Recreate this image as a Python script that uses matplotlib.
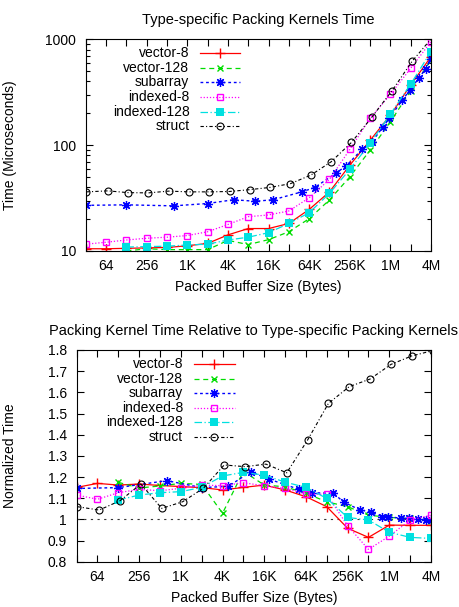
import numpy as np
import matplotlib
matplotlib.use("Agg")
from matplotlib import pyplot as plt

plt.rcParams['font.family'] = ['Liberation Sans', 'DejaVu Sans']
plt.rcParams['font.size'] = 10

# x positions are log2 of the packed buffer size in bytes
k_all = list(range(5, 23))          # 32 B .. 4 MB
k_128 = list(range(7, 23))          # series that start at 128 B
k_struct = [5.03] + [k + 0.08 for k in range(6, 23)]
k_sub = [5, 7.0, 9.32, 11.0, 12.28, 13.35, 14.23, 15.66, 16.27, 17.31,
         17.83, 18.6, 19.1, 19.65, 19.95, 20.58, 20.95, 21.4, 21.75, 22]

tick_k = list(range(5, 23))
tick_names = {6: '64', 8: '256', 10: '1K', 12: '4K', 14: '16K', 16: '64K',
              18: '256K', 20: '1M', 22: '4M'}

labels = ['vector-8', 'vector-128', 'subarray', 'indexed-8', 'indexed-128', 'struct']

# ---- top panel: time in microseconds
t_vec8 = [10.5, 10.5, 10.6, 10.7, 10.8, 11.2, 11.8, 14.2, 16.3, 16.3, 18.2,
          24.7, 36.2, 64.6, 111, 192, 370, 686]
t_vec128 = [10.0, 10.5, 10.3, 10.3, 10.3, 12.6, 11.5, 12.8, 15.2, 20.2, 30.4,
            50.1, 89.7, 166, 327, 637]
t_sub = [27.0, 27.3, 26.7, 28.1, 30.5, 29.5, 30.5, 36.3, 39.8, 54.2, 64, 91,
         108, 150, 180, 265, 330, 430, 530, 650]
t_idx8 = [11.6, 12.1, 12.7, 13.2, 13.5, 14.0, 15.2, 17.8, 21.1, 21.9, 23.9,
          31.8, 47.5, 91.0, 179, 302, 532, 950]
t_idx128 = [10.9, 11.0, 11.1, 11.4, 11.6, 12.7, 13.5, 14.9, 18.2, 23.0, 35.0,
            59.0, 104, 196, 378, 765]
t_struct = [36.2, 37.0, 35.6, 35.4, 36.8, 36.2, 36.2, 36.5, 38.0, 39.9, 43.3,
            52.1, 69.6, 106, 183, 327, 624, 1050]

# ---- bottom panel: normalized time
n_vec8 = [1.151, 1.170, 1.162, 1.167, 1.160, 1.155, 1.150, 1.139, 1.151, 1.162,
          1.139, 1.107, 1.060, 0.958, 0.915, 0.973, 0.972, 0.972]
n_vec128 = [1.175, 1.148, 1.158, 1.170, 1.165, 1.029, 1.227, 1.162, 1.154,
            1.123, 1.083, 1.060, 1.020, 1.009, 1.005, 0.994]
n_sub = [1.146, 1.150, 1.183, 1.150, 1.156, 1.225, 1.19, 1.142, 1.126, 1.123,
         1.081, 1.044, 1.036, 1.013, 1.013, 1.005, 1.005, 1.0, 0.997, 0.997]
n_idx8 = [1.115, 1.095, 1.126, 1.142, 1.135, 1.147, 1.162, 1.159, 1.173, 1.159,
          1.146, 1.120, 1.118, 0.970, 0.858, 0.921, 0.997, 1.020]
n_idx128 = [1.091, 1.115, 1.126, 1.131, 1.151, 1.205, 1.222, 1.209, 1.176,
            1.151, 1.099, 1.009, 0.997, 0.939, 0.915, 0.910]
n_struct = [1.060, 1.044, 1.088, 1.167, 1.052, 1.083, 1.147, 1.257, 1.249,
            1.261, 1.220, 1.375, 1.548, 1.627, 1.663, 1.732, 1.772, 1.797]

styles = [
    dict(color='#ff0000', lw=0.9, ls='-', marker='+', ms=6.5, mew=1.0),
    dict(color='#00dd00', lw=0.9, dashes=(4, 3), marker='x', ms=5, mew=1.0),
    dict(color='#0000ff', lw=1.0, dashes=(2, 2), marker=(8, 2, 0), ms=6.5, mew=0.9),
    dict(color='#ff00ff', lw=0.9, dashes=(1, 1.5), marker='s', mfc='none', ms=5, mew=1.0),
    dict(color='#00e0e0', lw=0.9, dashes=(6, 2, 1, 2), marker='s', ms=5.5, mew=0),
    dict(color='black', lw=0.8, dashes=(3, 2, 1, 2), marker='o', mfc='none', ms=5, mew=0.8),
]

key_y = [0.935, 0.865, 0.797, 0.727, 0.658, 0.590]


def sizes(ks):
    return 2.0 ** np.array(ks)


def draw_key(ax):
    for lab, st, y in zip(labels, styles, key_y):
        ax.text(0.30, y, lab, transform=ax.transAxes, ha='right', va='center')
        ax.plot([0.33, 0.388, 0.446], [y, y, y], transform=ax.transAxes,
                markevery=[1], **st)


def setup_x(ax):
    ax.set_xscale('log', base=2)
    ax.set_xlim(2.0 ** 5, 2.0 ** 22)
    ax.set_xticks(sizes(tick_k))
    ax.set_xticklabels([tick_names.get(k, '') for k in tick_k])
    ax.xaxis.set_minor_locator(matplotlib.ticker.NullLocator())
    ax.tick_params(which='both', direction='in', top=True, right=True)
    ax.tick_params(which='major', length=5, width=0.8, pad=6)
    ax.tick_params(which='minor', length=3, width=0.8)
    ax.set_xlabel('Packed Buffer Size (Bytes)')
    ax.xaxis.set_label_coords(0.5, -0.17)
    ax.xaxis.label.set_va('center')


fig = plt.figure(figsize=(4.59, 6.07), dpi=100)

# Top panel
ax1 = fig.add_axes([0.187, 0.5865, 0.752, 0.3487])
series1 = [(k_all, t_vec8), (k_128, t_vec128), (k_sub, t_sub),
           (k_all, t_idx8), (k_128, t_idx128), (k_struct, t_struct)]
for (ks, vals), st in zip(series1, styles):
    ax1.plot(sizes(ks), vals, **st)
ax1.set_yscale('log')
ax1.set_ylim(10, 1000)
ax1.yaxis.set_major_formatter(matplotlib.ticker.FormatStrFormatter('%d'))
ax1.yaxis.set_minor_formatter(matplotlib.ticker.NullFormatter())
setup_x(ax1)
ax1.tick_params(axis='y', pad=7)
ax1.set_title('Type-specific Packing Kernels Time', fontsize=10.5, pad=11)
ax1.set_ylabel('Time (Microseconds)')
ax1.yaxis.set_label_coords(-0.2, 0.5)
draw_key(ax1)

# Bottom panel
ax2 = fig.add_axes([0.167, 0.0746, 0.772, 0.3488])
ax2.axhline(1.0, color='#333333', lw=0.8, dashes=(2, 4))
series2 = [(k_all, n_vec8), (k_128, n_vec128), (k_sub, n_sub),
           (k_all, n_idx8), (k_128, n_idx128), (k_struct, n_struct)]
for (ks, vals), st in zip(series2, styles):
    ax2.plot(sizes(ks), vals, **st)
ax2.set_ylim(0.8, 1.8)
ax2.set_yticks(np.arange(0.8, 1.81, 0.1))
ax2.set_yticklabels(['0.8', '0.9', '1', '1.1', '1.2', '1.3', '1.4', '1.5',
                     '1.6', '1.7', '1.8'])
setup_x(ax2)
ax2.tick_params(axis='y', pad=7)
ax2.set_title('Packing Kernel Time Relative to Type-specific Packing Kernels',
              fontsize=10.5, pad=11)
ax2.set_ylabel('Normalized Time')
ax2.yaxis.set_label_coords(-0.169, 0.5)
draw_key(ax2)

fig.savefig('out.png', dpi=100)
